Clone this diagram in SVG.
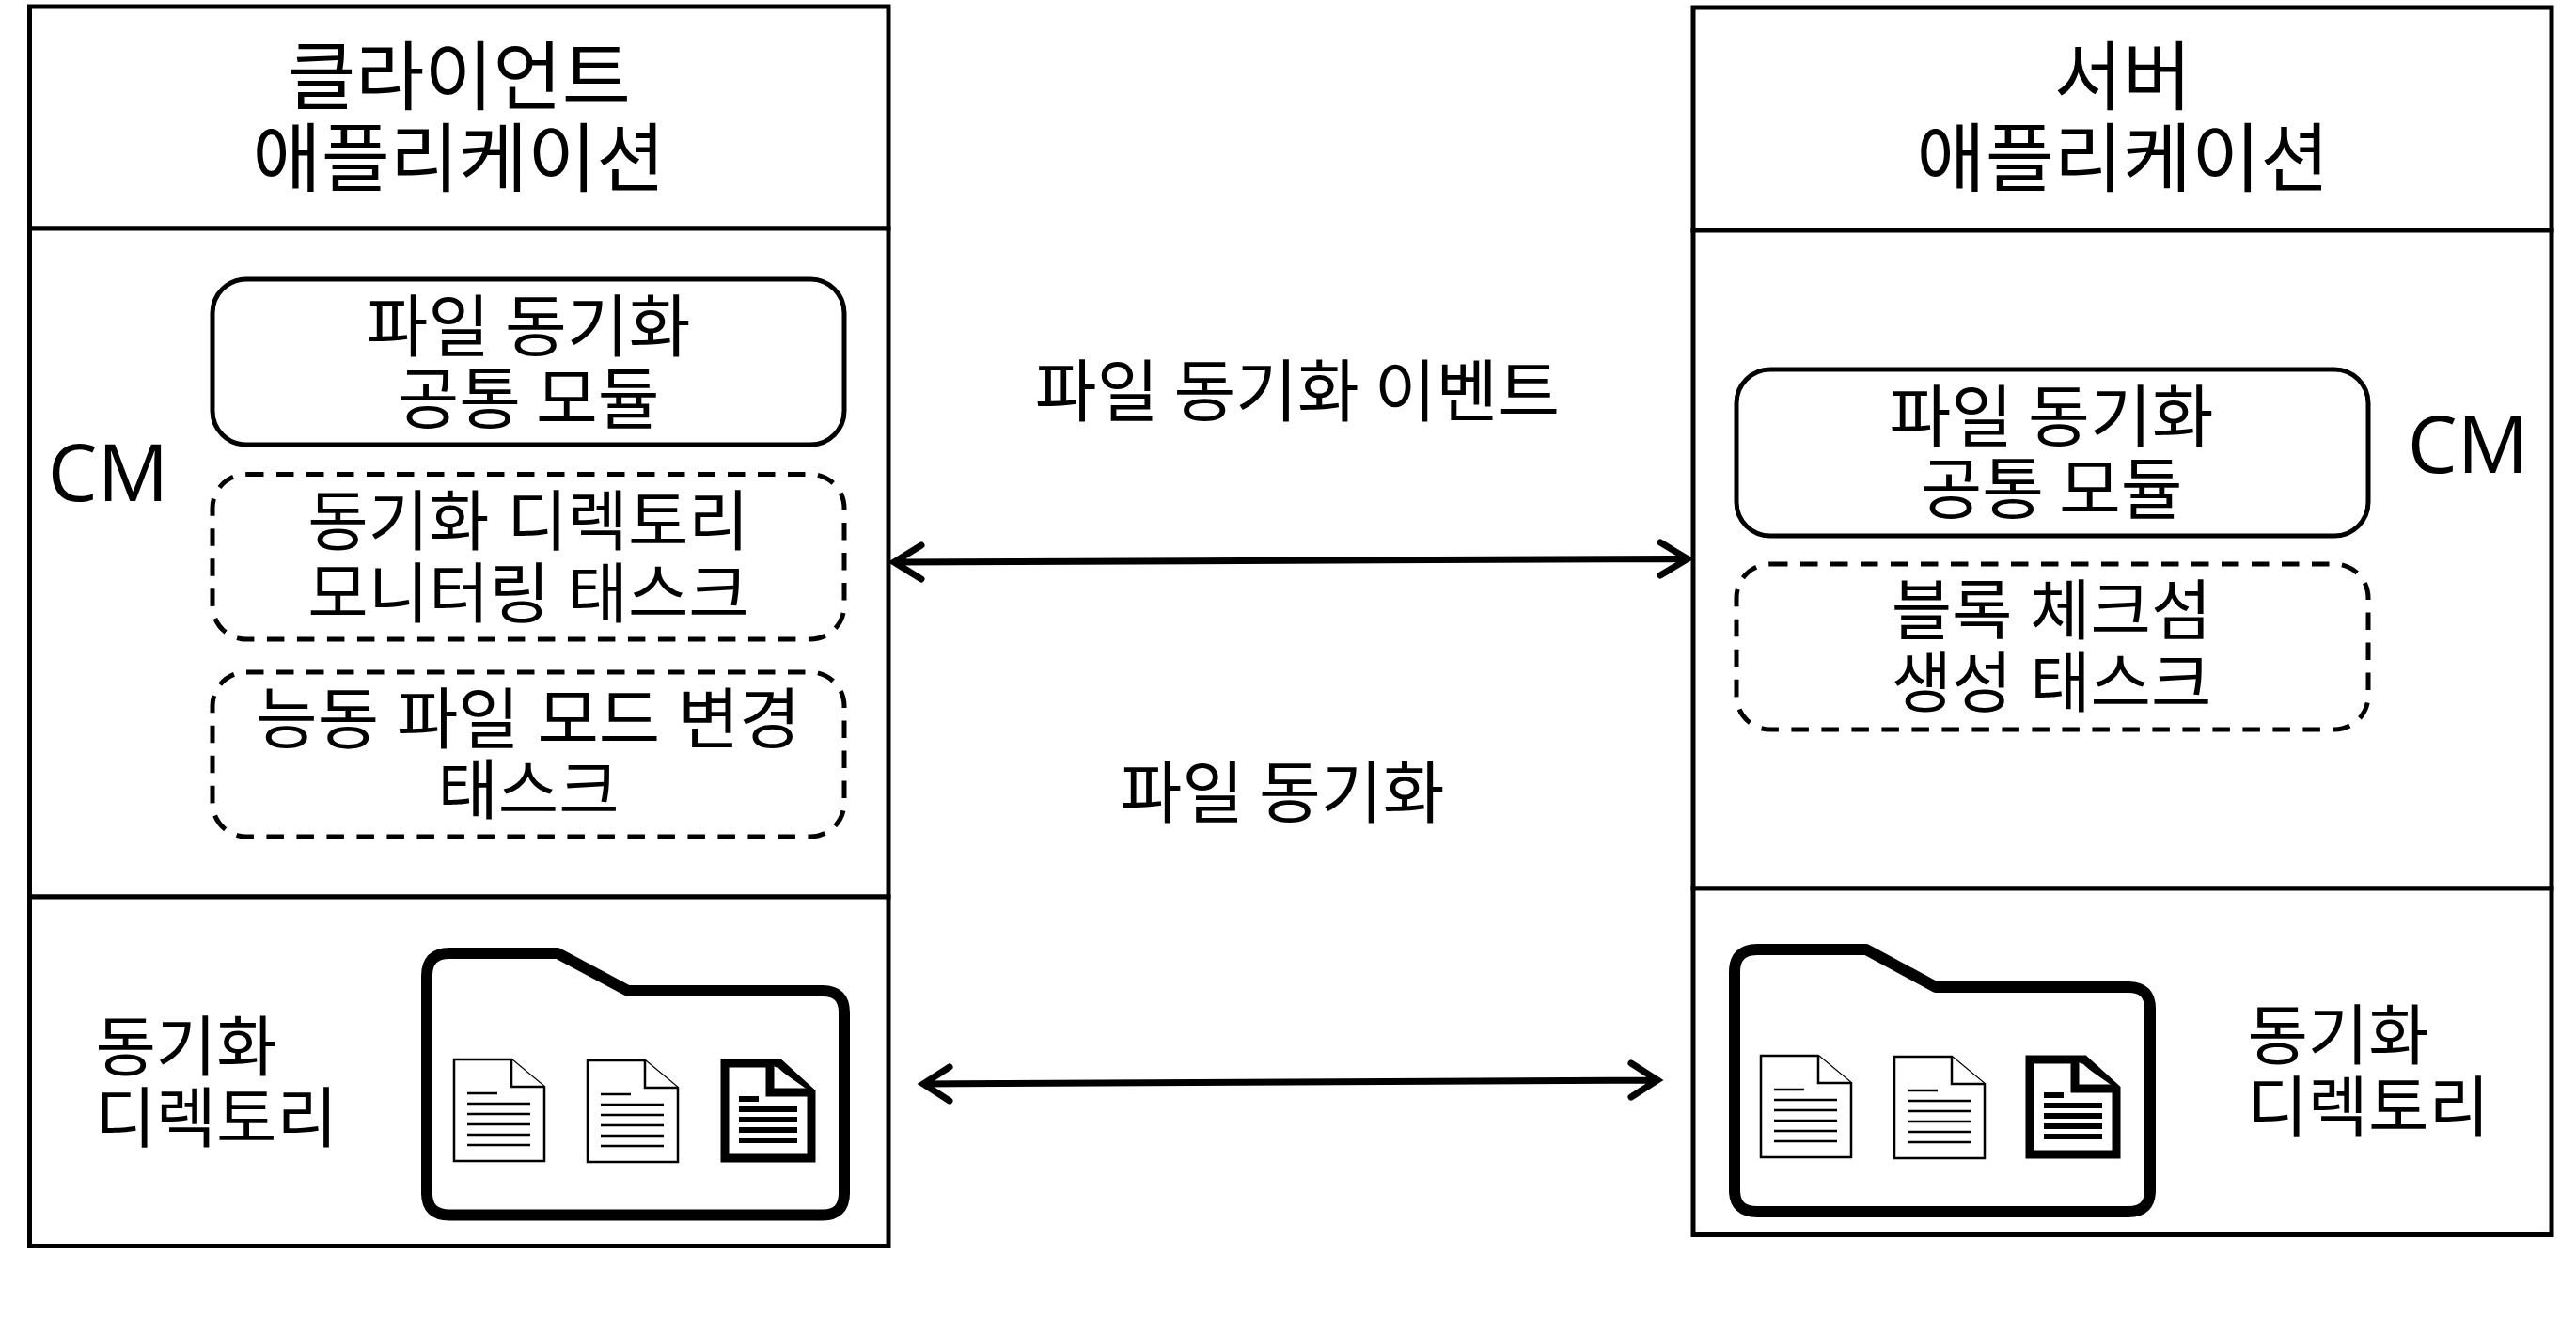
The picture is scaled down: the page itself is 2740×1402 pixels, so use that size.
<svg xmlns="http://www.w3.org/2000/svg" width="2740" height="1402" viewBox="0 0 2740 1402">
<style>
text{font-family:"Noto Sans CJK KR","Noto Sans",sans-serif;fill:#000;text-anchor:middle;font-size:71.5px}
.t{font-size:79.5px}
.s{font-size:70px}
.w{font-size:70px;word-spacing:3px}
.cm{font-family:"Open Sans","Noto Sans",sans-serif;font-size:84px}
.box{fill:#fff;stroke:#000;stroke-width:5}
.rr{fill:#fff;stroke:#000;stroke-width:5}
.dash{stroke-dasharray:18.5 13.5}
.folder{fill:#fff;stroke:#000;stroke-width:12;stroke-linejoin:round}
.doc{fill:#fff;stroke:#000;stroke-width:2.5}
.docl{stroke:#000;stroke-width:2.5;fill:none}
.dok{fill:#fff;stroke:#000;stroke-width:9}
.dokl{stroke:#000;stroke-width:6;fill:none}
.conn{stroke:#000;stroke-width:7;fill:none;stroke-linecap:round;stroke-linejoin:miter}
</style>
<defs>
<g id="d1"><path class="doc" d="M0 0H61L96 29V108H0Z"/><path class="doc" d="M61 0V29H96" fill="none"/><path class="docl" d="M14 36H46M14 47H81M14 58H81M14 69H81M14 80H81M14 91H81"/></g>
<g id="d2"><path class="dok" d="M4 4H62L96 35V105H4Z"/><path class="dok" d="M52 4V35H96"/><path class="dokl" d="M19 42H40M19 53H81M19 64H81M19 75H81M19 86H81"/></g>
</defs>
<rect width="2740" height="1402" fill="#fff"/>
<g id="client-app"><rect class="box" x="31.500" y="7" width="913.500" height="236"/><text class="t" x="488" y="110">클라이언트</text><text class="t" x="488" y="197">애플리케이션</text></g>
<g id="client-cm"><rect class="box" x="31.500" y="243" width="913.500" height="711"/><text class="cm" x="115" y="533">CM</text></g>
<g id="client-common"><rect class="rr" x="226" y="297" width="672" height="176" rx="36"/><text x="562" y="373">파일 동기화</text><text x="562" y="450">공통 모듈</text></g>
<g id="client-monitor"><rect class="rr dash" x="226" y="504.500" width="672" height="175.500" rx="36"/><text class="w" x="562" y="580">동기화 디렉토리</text><text class="w" x="562" y="657">모니터링 태스크</text></g>
<g id="client-active"><rect class="rr dash" x="226" y="715" width="672" height="175" rx="36"/><text class="w" x="562" y="790" style="font-size:71px">능동 파일 모드 변경</text><text class="s" x="562" y="866">태스크</text></g>
<g id="client-dir"><rect class="box" x="31.500" y="954" width="913.500" height="371.500"/><text class="s" x="198" y="1139">동기화</text><text class="s" x="230" y="1215">디렉토리</text>
<path class="folder" d="M478 1014H593L668 1054H875Q898 1054 898 1077V1269Q898 1292.500 875 1292.500H478Q454 1292.500 454 1269V1038Q454 1014 478 1014Z"/>
<use href="#d1" x="483" y="1127"/><use href="#d1" x="625" y="1128"/><use href="#d2" x="767" y="1127"/></g>
<g id="server-app"><rect class="box" x="1801" y="8" width="913" height="237"/><text class="t" x="2258" y="110">서버</text><text class="t" x="2258" y="197">애플리케이션</text></g>
<g id="server-cm"><rect class="box" x="1801" y="245" width="913" height="700"/><text class="cm" x="2625" y="503">CM</text></g>
<g id="server-common"><rect class="rr" x="1847" y="393" width="672" height="177" rx="36"/><text x="2182" y="469">파일 동기화</text><text x="2182" y="546">공통 모듈</text></g>
<g id="server-checksum"><rect class="rr dash" x="1847" y="600" width="672" height="176" rx="36"/><text class="w" x="2182" y="675">블록 체크섬</text><text class="w" x="2182" y="752">생성 태스크</text></g>
<g id="server-dir"><rect class="box" x="1801" y="945" width="913" height="368.500"/><text class="s" x="2487" y="1127">동기화</text><text class="s" x="2519" y="1203">디렉토리</text>
<path class="folder" d="M1869 1010H1985L2059 1050H2264Q2287 1050 2287 1073V1266Q2287 1289 2264 1289H1869Q1845 1289 1845 1266V1034Q1845 1010 1869 1010Z"/>
<use href="#d1" x="1873" y="1123"/><use href="#d1" x="2015" y="1124"/><use href="#d2" x="2155" y="1123"/></g>
<g id="labels"><text x="1380" y="442">파일 동기화 이벤트</text><text x="1364" y="869">파일 동기화</text></g>
<g id="connectors">
<path class="conn" d="M951 598L1795 594.500M980 580L951 598L980 616M1766 577L1795 594.500L1766 612"/>
<path class="conn" d="M982 1153L1763 1149M1010 1135L982 1153L1010 1171M1735 1131L1763 1149L1735 1167"/>
</g>
</svg>
